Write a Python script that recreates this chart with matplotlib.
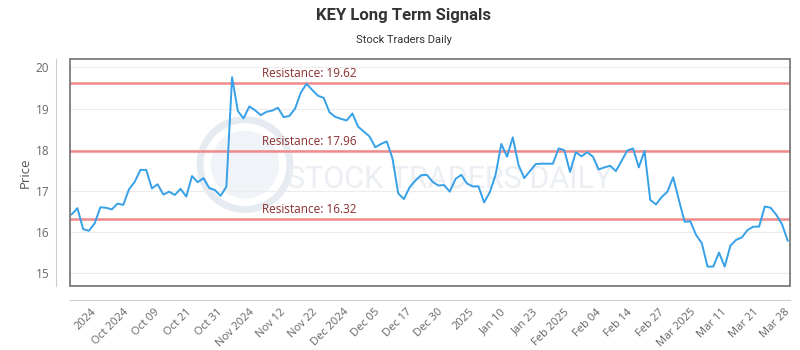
import numpy as np
import matplotlib
matplotlib.use("Agg")
import matplotlib.pyplot as plt
from matplotlib.patches import Rectangle, Ellipse

# closing prices (one per trading day)
prices = [16.43, 16.58, 16.07, 16.03, 16.21, 16.60, 16.59, 16.55, 16.69, 16.66,
          17.04, 17.22, 17.51, 17.51, 17.06, 17.16, 16.91, 16.98, 16.90, 17.05,
          16.86, 17.36, 17.21, 17.31, 17.07, 17.02, 16.88, 17.10, 19.76, 18.94,
          18.76, 19.05, 18.96, 18.84, 18.92, 18.95, 19.02, 18.79, 18.82, 19.00,
          19.39, 19.60, 19.45, 19.31, 19.26, 18.91, 18.80, 18.75, 18.71, 18.88,
          18.56, 18.44, 18.32, 18.06, 18.14, 18.20, 17.79, 16.94, 16.80, 17.09,
          17.25, 17.38, 17.39, 17.22, 17.13, 17.14, 16.98, 17.29, 17.39, 17.18,
          17.11, 17.11, 16.72, 16.97, 17.39, 18.14, 17.83, 18.30, 17.63, 17.31,
          17.48, 17.65, 17.66, 17.66, 17.66, 18.03, 17.99, 17.46, 17.94, 17.84,
          17.94, 17.83, 17.52, 17.57, 17.61, 17.48, 17.73, 17.98, 18.03, 17.57,
          17.97, 16.78, 16.67, 16.85, 16.98, 17.33, 16.78, 16.25, 16.26, 15.93,
          15.73, 15.16, 15.16, 15.50, 15.16, 15.67, 15.81, 15.87, 16.05, 16.13,
          16.13, 16.62, 16.59, 16.42, 16.19, 15.79]

resistance = [19.62, 17.96, 16.32]

tick_labels = ["2024", "Oct 2024", "Oct 09", "Oct 21", "Oct 31", "Nov 2024",
               "Nov 12", "Nov 22", "Dec 2024", "Dec 05", "Dec 17", "Dec 30",
               "2025", "Jan 10", "Jan 23", "Feb 2025", "Feb 04", "Feb 14",
               "Feb 27", "Mar 2025", "Mar 11", "Mar 21", "Mar 28"]

plt.rcParams['font.family'] = ['Open Sans', 'DejaVu Sans']

fig = plt.figure(figsize=(8, 3.5), dpi=100)
ax = fig.add_axes([0.0875, 0.183, 0.9, 0.648])

# spines first: moving them resets the ticks
for s in ['top', 'right']:
    ax.spines[s].set_visible(False)
ax.spines['left'].set_position(('outward', 10))
ax.spines['bottom'].set_position(('outward', 10))
ax.spines['left'].set_color('#cccccc')
ax.spines['bottom'].set_color('#cccccc')

x = np.arange(len(prices))
ax.set_xlim(-0.3, len(prices) - 0.6)
ax.set_ylim(14.69, 20.2)

# watermark
ax.add_patch(Ellipse((0.243, 0.535), 0.125, 0.396, transform=ax.transAxes,
                     fill=False, ec='#e5ebf1', lw=5, zorder=0))
ax.add_patch(Ellipse((0.243, 0.535), 0.095, 0.30, transform=ax.transAxes,
                     fc='#f0f4f8', ec='none', zorder=0))
ax.text(0.528, 0.47, "STOCK TRADERS DAILY", transform=ax.transAxes,
        ha='center', va='center', fontsize=22, color='#ebeff3',
        family='Roboto', zorder=0)

ax.set_yticks([15, 16, 17, 18, 19, 20])
ax.grid(axis='y', color='#ececec', lw=0.8)
ax.set_axisbelow(True)

for r in resistance:
    ax.axhline(r, color='#f08a8a', lw=1.8, zorder=2)
    ax.text(0.267, r + 0.07, f"Resistance: {r:.2f}", transform=ax.get_yaxis_transform(),
            color='#8b2e2e', fontsize=8.5, va='bottom', ha='left', zorder=3)

ax.plot(x, prices, color='#36a0e8', lw=1.4, zorder=4)

ticks = np.linspace(3.4, 124.4, len(tick_labels))
ax.set_xticks(ticks)
ax.set_xticklabels(tick_labels)
ax.tick_params(axis='x', length=0, labelsize=8, colors='#666666', pad=5,
               labelrotation=45)
for lbl in ax.get_xticklabels():
    lbl.set_ha('right')
    lbl.set_rotation_mode('anchor')
ax.tick_params(axis='y', length=0, labelsize=8.5, colors='#666666', pad=5)

ax.add_patch(Rectangle((0, 0), 1, 1, transform=ax.transAxes, fill=False,
                       ec='#707070', lw=1.2, clip_on=False, zorder=5))

ax.set_ylabel("Price", color='#555555', fontsize=9.5, labelpad=3)

fig.text(0.505, 0.955, "KEY Long Term Signals", ha='center', va='center',
         fontsize=12, fontweight='bold', color='#333333', family='Roboto')
fig.text(0.505, 0.885, "Stock Traders Daily", ha='center', va='center',
         fontsize=8, color='#333333', family='Roboto')

fig.savefig("out.png", dpi=100)
